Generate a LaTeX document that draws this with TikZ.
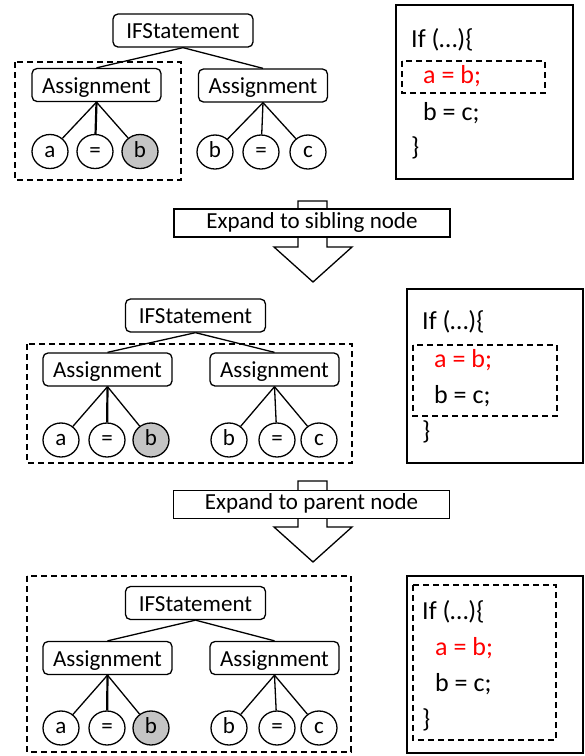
\documentclass[tikz,border=0pt]{standalone}
\usepackage{fontspec}
\setmainfont{Carlito}
\usetikzlibrary{shapes.geometric}
\definecolor{leafgray}{HTML}{C4C4C4}
\definecolor{codered}{HTML}{FF0000}
\tikzset{
  treebox/.style={draw, rounded corners=5pt, line width=1.3pt, inner sep=0pt,
    minimum height=33pt, text height=16pt, text depth=0pt,
    font=\fontsize{23}{27}\selectfont},
  ifbox/.style={treebox, minimum width=140pt},
  asbox/.style={treebox, minimum width=129pt},
  leaf/.style={draw, ellipse, line width=1.3pt, minimum width=36pt, minimum height=34pt,
    inner sep=0pt, text height=11pt, text depth=0pt, font=\fontsize{23}{27}\selectfont},
  hleaf/.style={leaf, fill=leafgray},
  edge/.style={line width=1.3pt},
  thickedge/.style={line width=2.2pt},
  dashbox/.style={draw, line width=1.4pt, dash pattern=on 6pt off 4pt},
  codebox/.style={draw, line width=2.6pt},
  codeline/.style={anchor=base west, inner sep=0pt, font=\fontsize{26}{31}\selectfont},
  redline/.style={codeline, text=codered},
  labelbox/.style={draw, fill=white, line width=1.3pt, minimum width=276pt, minimum height=28pt,
    inner sep=0pt, text height=12pt, text depth=2pt, font=\fontsize{23}{27}\selectfont},
  bigarrow/.style={draw, fill=white, line width=1.3pt, line join=miter}
}
\begin{document}
\begin{tikzpicture}[x=1pt, y=-1pt]
\useasboundingbox (0,0) rectangle (585,756);

% ---------------- Panel 1 ----------------
\draw[dashbox] (15,62) rectangle (181,180);
\node[ifbox] (if1) at (183,30.5) {IFStatement};
\node[asbox] (la1) at (96.5,85) {Assignment};
\node[asbox] (ra1) at (263,85.5) {Assignment};
\node[leaf]  (a1)  at (50,151.5) {a};
\node[leaf]  (e1)  at (95,151.5) {=};
\node[hleaf] (b1)  at (140,151.5) {b};
\node[leaf]  (rb1) at (215,152) {b};
\node[leaf]  (re1) at (261,152) {=};
\node[leaf]  (rc1) at (308,152) {c};
\draw[edge] (if1.south) -- (la1.north);
\draw[edge] (if1.south) -- (ra1.north);
\draw[edge] (la1.south) -- (a1);
\draw[thickedge] (la1.south) -- (e1);
\draw[edge] (la1.south) -- (b1);
\draw[edge] (ra1.south) -- (rb1);
\draw[edge] (ra1.south) -- (re1);
\draw[edge] (ra1.south) -- (rc1);

\draw[codebox] (396,5) rectangle (573,179);
\draw[dashbox] (402,61) rectangle (545,93);
\node[codeline] (c1a) at (411,47) {If (…)\{};
\node[redline]  (c1b) at (423,83) {a = b;};
\node[codeline] (c1c) at (423,120) {b = c;};
\node[codeline] (c1d) at (411,155) {\}};

% ---------------- Arrow 1 ----------------
\draw[bigarrow] (298,201) -- (327,201) -- (327,247) -- (352,247) -- (313,282)
  -- (274,247) -- (298,247) -- cycle;
\node[labelbox] (lab1) at (312,223) {Expand to sibling node};

% ---------------- Panel 2 ----------------
\draw[dashbox] (27,344) rectangle (352,463);
\node[ifbox] (if2) at (195.5,315.5) {IFStatement};
\node[asbox] (la2) at (107.5,369.5) {Assignment};
\node[asbox] (ra2) at (274.5,369.5) {Assignment};
\node[leaf]  (a2)  at (61,440) {a};
\node[leaf]  (e2)  at (107,440) {=};
\node[hleaf] (b2)  at (151,440) {b};
\node[leaf]  (rb2) at (229,440) {b};
\node[leaf]  (re2) at (277,440) {=};
\node[leaf]  (rc2) at (319,440) {c};
\draw[edge] (if2.south) -- (la2.north);
\draw[edge] (if2.south) -- (ra2.north);
\draw[edge] (la2.south) -- (a2);
\draw[thickedge] (la2.south) -- (e2);
\draw[edge] (la2.south) -- (b2);
\draw[edge] (ra2.south) -- (rb2);
\draw[edge] (ra2.south) -- (re2);
\draw[edge] (ra2.south) -- (rc2);

\draw[codebox] (407,289) rectangle (583,463);
\draw[dashbox] (413,345) rectangle (557,416);
\node[codeline] (c2a) at (422,329) {If (…)\{};
\node[redline]  (c2b) at (434,367) {a = b;};
\node[codeline] (c2c) at (434,403) {b = c;};
\node[codeline] (c2d) at (422,439) {\}};

% ---------------- Arrow 2 ----------------
\draw[bigarrow] (298,481) -- (327,481) -- (327,527) -- (352,527) -- (313,562)
  -- (274,527) -- (298,527) -- cycle;
\node[labelbox] (lab2) at (311.5,504.5) {Expand to parent node};

% ---------------- Panel 3 ----------------
\draw[dashbox] (27,576) rectangle (351,752);
\node[ifbox] (if3) at (195.5,603) {IFStatement};
\node[asbox] (la3) at (107.5,658) {Assignment};
\node[asbox] (ra3) at (274.5,658) {Assignment};
\node[leaf]  (a3)  at (61,728) {a};
\node[leaf]  (e3)  at (107,728) {=};
\node[hleaf] (b3)  at (151,728) {b};
\node[leaf]  (rb3) at (229,728) {b};
\node[leaf]  (re3) at (277,728) {=};
\node[leaf]  (rc3) at (319,728) {c};
\draw[edge] (if3.south) -- (la3.north);
\draw[edge] (if3.south) -- (ra3.north);
\draw[edge] (la3.south) -- (a3);
\draw[thickedge] (la3.south) -- (e3);
\draw[edge] (la3.south) -- (b3);
\draw[edge] (ra3.south) -- (rb3);
\draw[edge] (ra3.south) -- (re3);
\draw[edge] (ra3.south) -- (rc3);

\draw[codebox] (407,576) rectangle (583,753);
\draw[dashbox] (413,585) rectangle (556,740);
\node[codeline] (c3a) at (422,619) {If (…)\{};
\node[redline]  (c3b) at (435,655) {a = b;};
\node[codeline] (c3c) at (435,691) {b = c;};
\node[codeline] (c3d) at (422,727) {\}};
\end{tikzpicture}
\end{document}
